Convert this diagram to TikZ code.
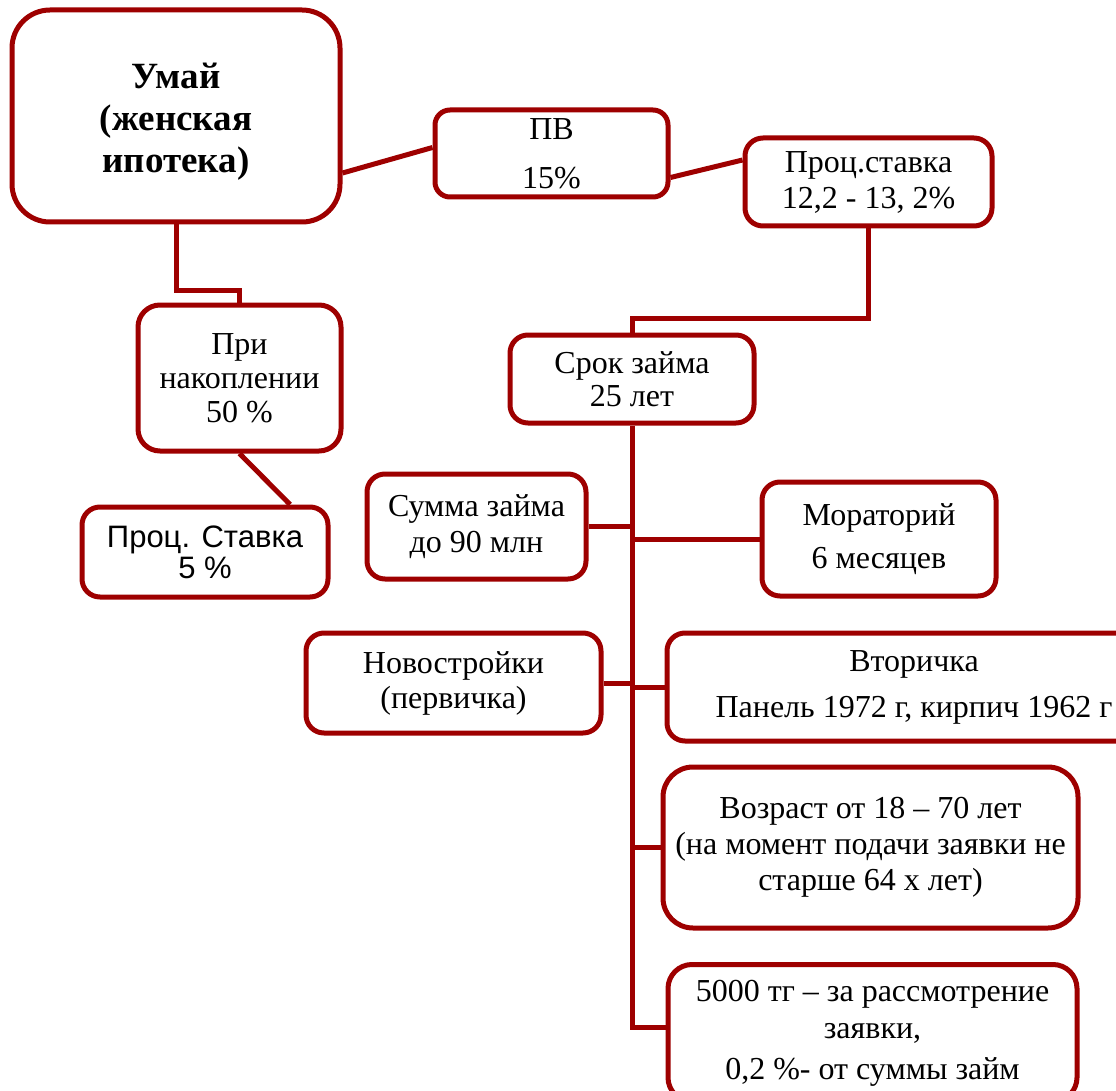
\documentclass[tikz,border=0pt]{standalone}
\usepackage{fontspec}
\setmainfont{Liberation Serif}
\newfontfamily\sansf{Liberation Sans}
\usetikzlibrary{calc}
\definecolor{dred}{RGB}{158,0,0}
\tikzset{
  box/.style={draw=dred, line width=5pt, rounded corners=18pt, fill=white,
    inner sep=0pt, align=center, font=\fontsize{32}{35}\selectfont},
  link/.style={draw=dred, line width=5pt}
}
\begin{document}
\begin{tikzpicture}[x=1pt,y=-1pt]
\useasboundingbox (0,0) rectangle (1116,1091);
\node[box, rounded corners=38pt, minimum width=328pt, minimum height=212pt] (umai) at (176,116) {};
\node[font=\fontsize{37}{42}\selectfont\bfseries, align=center, inner sep=0pt] (umaitext) at (176,122) {Умай\\(женская\\ипотека)};
\node[box, rounded corners=15pt, minimum width=233pt, minimum height=87pt,
  font=\fontsize{32}{49}\selectfont] (pv) at (551.5,153.5) {ПВ\\15\%};
\node[box, minimum width=247pt, minimum height=88pt,
  font=\fontsize{32}{36}\selectfont] (pst) at (868.5,182) {Проц.ставка\\12,2 - 13, 2\%};
\node[box, rounded corners=22pt, minimum width=203pt, minimum height=146pt,
  font=\fontsize{32}{34}\selectfont] (pri) at (239.5,378) {При\\накоплении\\50 \%};
\node[box, minimum width=246pt, minimum height=90pt,
  font=\fontsize{31}{31}\selectfont\sansf] (p5) at (205,552) {Проц. Ставка\\5 \%};
\node[box, minimum width=244pt, minimum height=88pt,
  font=\fontsize{32}{33}\selectfont] (srok) at (632,379) {Срок займа\\25 лет};
\node[box, minimum width=219pt, minimum height=105pt,
  font=\fontsize{32}{36}\selectfont] (summa) at (476.5,526.5) {Сумма займа\\до 90 млн};
\node[box, minimum width=234pt, minimum height=114pt,
  font=\fontsize{32}{43}\selectfont] (morat) at (879,539) {Мораторий\\6 месяцев};
\node[box, minimum width=295pt, minimum height=100pt,
  font=\fontsize{32}{35}\selectfont] (novo) at (453.5,683) {Новостройки\\(первичка)};
\node[box, minimum width=494pt, minimum height=108pt,
  font=\fontsize{32}{46}\selectfont] (vtor) at (914,687) {Вторичка\\Панель 1972 г, кирпич 1962 г};
\node[box, rounded corners=30pt, minimum width=415pt, minimum height=161pt,
  font=\fontsize{32}{36}\selectfont] (vozr) at (870.5,847.5) {Возраст от 18 – 70 лет\\(на момент подачи заявки не\\старше 64 х лет)};
\node[box, rounded corners=24pt, minimum width=409pt, minimum height=137pt,
  font=\fontsize{32}{37}\selectfont] (fee) at (872.5,1033) {5000 тг – за рассмотрение\\заявки,\\[4pt]0,2 \%- от суммы займ};
% connectors
\draw[link] ([yshift=-57pt]umai.east) -- ([yshift=6pt]pv.west);
\draw[link] ([yshift=-24pt]pv.east) -- ([yshift=22pt]pst.west);
\draw[link] (umai.south) -- (umai.south |- 0,291) -| (pri.north);
\draw[link] (pri.south) -- ([xshift=85pt]p5.north);
\draw[link] (pst.south) -- (pst.south |- 0,318) -| (srok.north);
\draw[link] (srok.south) -- (srok.south |- 0,1027) -- (fee.west |- 0,1027);
\draw[link] (summa.east) -- (summa.east -| srok.south);
\draw[link] (morat.west) -- (morat.west -| srok.south);
\draw[link] (novo.east) -- (novo.east -| srok.south);
\draw[link] (vtor.west) -- (vtor.west -| srok.south);
\draw[link] (vozr.west) -- (vozr.west -| srok.south);
\end{tikzpicture}
\end{document}
